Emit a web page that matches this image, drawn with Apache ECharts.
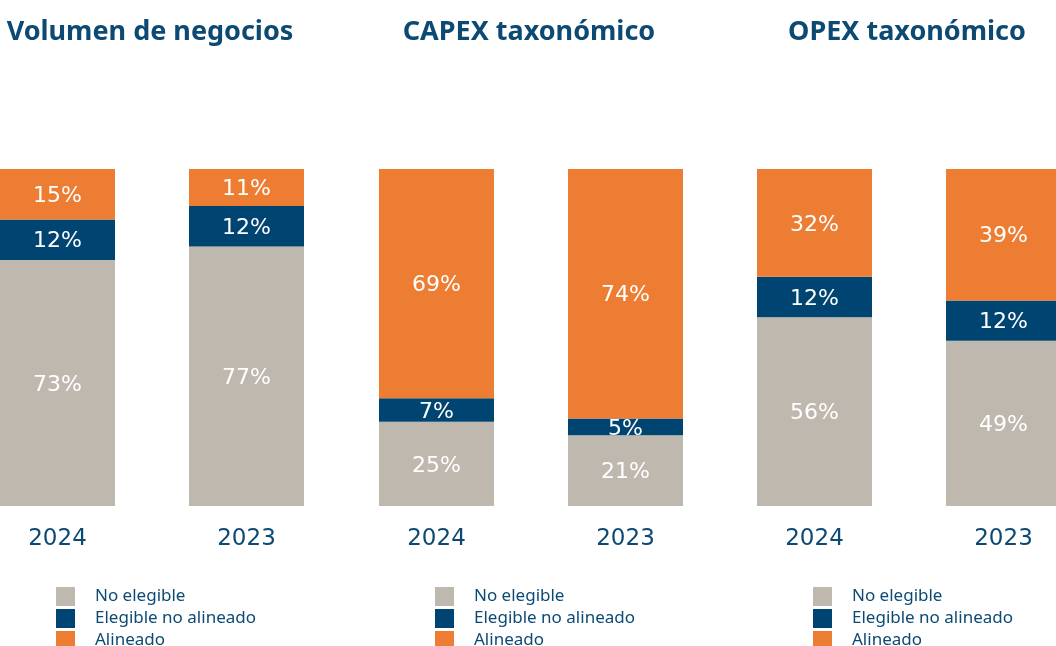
<!DOCTYPE html>
<html>
<head>
<meta charset="utf-8">
<script src="https://cdn.jsdelivr.net/npm/echarts@6/dist/echarts.min.js"></script>
<style>
  html, body { margin: 0; padding: 0; background: #fff; }
  #main { width: 1056px; height: 646px; }
</style>
</head>
<body>
<div id="main"></div>
<script>
// datos del grafico
const years = ['2024', '2023'];
const panelTitles = ['Volumen de negocios', 'CAPEX taxonómico', 'OPEX taxonómico'];
const seriesNames = ['No elegible', 'Elegible no alineado', 'Alineado'];
const noElegible = [[73, 77], [25, 21], [56, 49]];
const elegibleNoAlineado = [[12, 12], [7, 5], [12, 12]];
const alineado = [[15, 11], [69, 74], [32, 39]];

const colores = ['#bfb8af', '#004571', '#ed7d33'];
const azul = '#0c4a74';
const fuente = '"Noto Sans", "Open Sans", sans-serif';
const fuenteNum = '"DejaVu Sans", sans-serif';

// posicion de cada panel (grid de 2 categorias, 189px cada una)
const panelLeft = [-37, 342, 720];

let grids = [], xAxes = [], yAxes = [], series = [], titles = [], legends = [];

for (let p = 0; p < 3; p++) {
    grids.push({ left: panelLeft[p], width: 378, top: 169, bottom: 140, outerBoundsMode: 'none', containLabel: false });
    xAxes.push({
        gridIndex: p,
        type: 'category',
        data: years,
        axisLine: { show: false },
        axisTick: { show: false },
        axisLabel: { color: azul, fontSize: 23, fontFamily: fuenteNum, margin: 22 }
    });
    yAxes.push({ gridIndex: p, type: 'value', min: 0, max: 100, show: false, splitLine: { show: false } });

    const valores = [noElegible[p], elegibleNoAlineado[p], alineado[p]];
    for (let s = 0; s < 3; s++) {
        series.push({
            name: seriesNames[s],
            type: 'bar',
            stack: 'panel' + p,
            xAxisIndex: p,
            yAxisIndex: p,
            barWidth: 115,
            data: valores[s],
            itemStyle: { color: colores[s] },
            label: {
                show: true,
                position: 'inside',
                offset: [0, 2],
                color: '#fff',
                fontSize: 22,
                fontFamily: fuenteNum,
                formatter: '{c}%'
            }
        });

        // una leyenda por fila para que no se parta en columnas
        legends.push({
            left: panelLeft[p] + 93,
            top: 587 + s * 22,
            padding: 0,
            itemWidth: 19,
            itemHeight: 19,
            icon: 'rect',
            selectedMode: false,
            data: [seriesNames[s]],
            textStyle: { color: azul, fontSize: 17, fontFamily: fuente, padding: [0, 0, 0, 15] }
        });
    }

    titles.push({
        text: panelTitles[p],
        left: panelLeft[p] + 187,
        textAlign: 'center',
        top: 19,
        padding: 0,
        textStyle: { color: azul, fontSize: 27, fontWeight: 'bold', fontFamily: fuente }
    });
}

let chart = echarts.init(document.getElementById('main'));
chart.setOption({
    animation: false,
    title: titles,
    legend: legends,
    grid: grids,
    xAxis: xAxes,
    yAxis: yAxes,
    series: series
});
</script>
</body>
</html>
